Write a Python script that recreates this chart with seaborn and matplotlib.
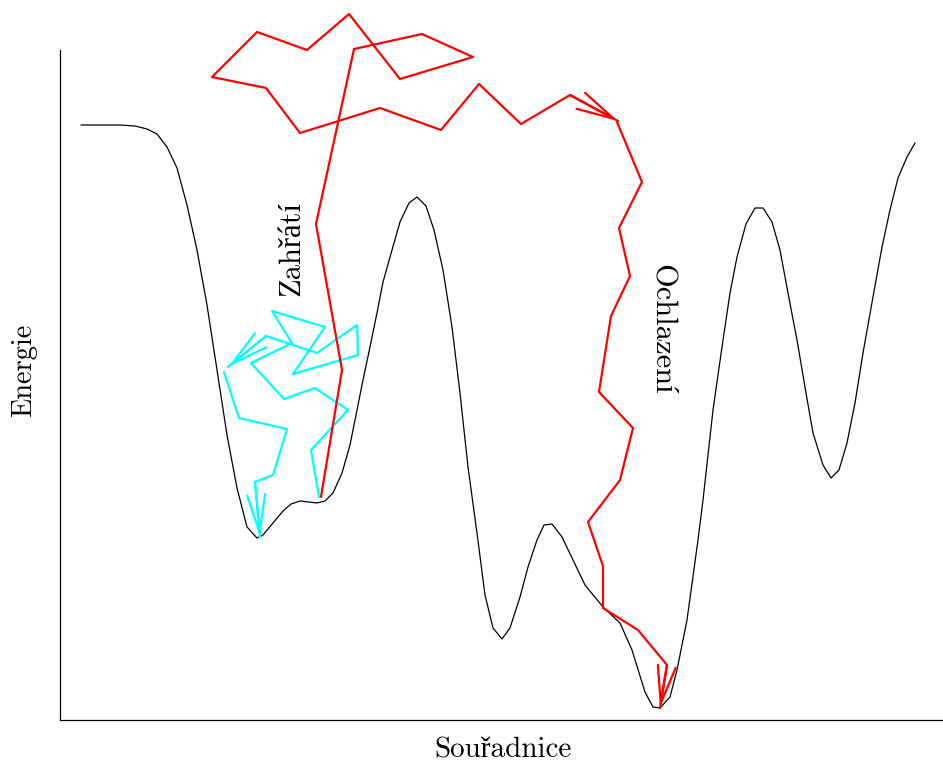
import numpy as np
import pandas as pd
import matplotlib
matplotlib.use("Agg")
import matplotlib.pyplot as plt
import seaborn as sns

# Energy landscape (coordinate, energy)
landscape_x = [21, 40, 60, 75, 87, 97, 107, 117, 127, 137, 147, 157, 167, 177, 187, 197, 203, 213, 223, 231,
               240, 257, 265, 273, 282, 290, 297, 303, 310, 317, 323, 332, 340, 349, 357, 366, 374, 383, 392, 400,
               408, 417, 425, 433, 442, 450, 460, 468, 477, 484, 492, 502, 513, 525, 543, 560, 572, 585, 593, 600,
               610, 617, 627, 638, 643, 653, 662, 670, 677, 686, 695, 703, 712, 720, 728, 737, 746, 753, 763, 771,
               779, 787, 795, 803, 813, 822, 830, 838, 847, 855]
landscape_y = [595, 595, 595, 594, 591, 586, 573, 552, 515, 470, 415, 350, 285, 232, 193, 182, 185, 197, 209, 216,
               219, 217, 219, 227, 247, 275, 310, 340, 373, 407, 438, 470, 498, 517, 523, 514, 490, 450, 393, 327,
               253, 187, 125, 92, 81, 92, 123, 153, 180, 195, 196, 183, 160, 135, 113, 97, 70, 28, 13, 12,
               23, 50, 100, 180, 220, 310, 373, 427, 463, 496, 512, 512, 498, 470, 427, 380, 327, 287, 255, 242,
               250, 277, 317, 367, 423, 473, 510, 542, 563, 577]

# Heating (red) - from local minimum up
heat_x = [261, 282, 256, 294]
heat_y = [223, 350, 496, 671]

# Random walk at high temperature (red)
walk_x = [294, 362, 413, 340, 289, 247, 197, 152, 206, 240, 320, 381, 419, 461, 510, 558]
walk_y = [671, 686, 663, 641, 706, 670, 688, 643, 632, 587, 612, 590, 636, 596, 625, 599]

# Cooling (red) - down into global minimum
cool_x = [557, 582, 559, 570, 551, 539, 573, 560, 528, 543, 543, 578, 607, 600]
cool_y = [598, 538, 492, 444, 404, 328, 292, 240, 198, 154, 112, 90, 55, 12]

# Local search (cyan), two arrowed segments
local1_x = [259, 251, 288, 255, 224, 191, 232, 212, 265, 233, 298, 297, 257, 206, 168]
local1_y = [223, 270, 310, 332, 321, 357, 377, 409, 393, 346, 365, 395, 367, 384, 353]
local2_x = [164, 179, 227, 213, 195, 200]
local2_y = [348, 302, 291, 245, 238, 183]

RED = "#ff0000"
CYAN = "#00ffff"

sns.set_style("white")
plt.rcParams["font.family"] = ["cmr10", "Liberation Serif"]
plt.rcParams["axes.unicode_minus"] = False
plt.rcParams["text.color"] = "black"
plt.rcParams["axes.labelcolor"] = "black"

fig = plt.figure(figsize=(9.43, 7.65), dpi=100)
ax = fig.add_axes([60 / 943, 45 / 765, 883 / 943, 670 / 765])

sns.lineplot(x=landscape_x, y=landscape_y, sort=False, estimator=None, color="black", lw=0.9, ax=ax)


def arrow_path(xs, ys, color):
    df = pd.DataFrame({"x": xs, "y": ys})
    sns.lineplot(data=df, x="x", y="y", sort=False, estimator=None, color=color, lw=1.6, ax=ax)
    for line in ax.lines:
        line.set_clip_on(False)
    ax.annotate("", xy=(xs[-1], ys[-1]), xytext=(xs[-2], ys[-2]),
                arrowprops=dict(arrowstyle="->,head_length=2.7,head_width=0.65", mutation_scale=10,
                                shrinkA=0, shrinkB=0, lw=1.6, color=color))


arrow_path(local1_x, local1_y, CYAN)
arrow_path(local2_x, local2_y, CYAN)
arrow_path(heat_x, heat_y, RED)
arrow_path(walk_x, walk_y, RED)
arrow_path(cool_x, cool_y, RED)

ax.set_xlim(0, 883)
ax.set_ylim(0, 670)
ax.set_xticks([])
ax.set_yticks([])
for side in ["top", "right"]:
    ax.spines[side].set_visible(False)
for side in ["left", "bottom"]:
    ax.spines[side].set_color("black")
    ax.spines[side].set_linewidth(0.9)

ax.set_xlabel("Souřadnice", fontsize=21, va="baseline", color="black")
ax.xaxis.set_label_coords(0.502, -0.0555)
ax.set_ylabel("Energie", fontsize=20.5, va="center", color="black")
ax.yaxis.set_label_coords(-0.041, 0.522)

ax.text(232, 471, "Zahřátí", rotation=90, fontsize=22, ha="center", va="center", color="black")
ax.text(602, 391, "Ochlazení", rotation=-90, fontsize=22, ha="center", va="center", color="black")

plt.savefig("out.png", dpi=100)
plt.close()
